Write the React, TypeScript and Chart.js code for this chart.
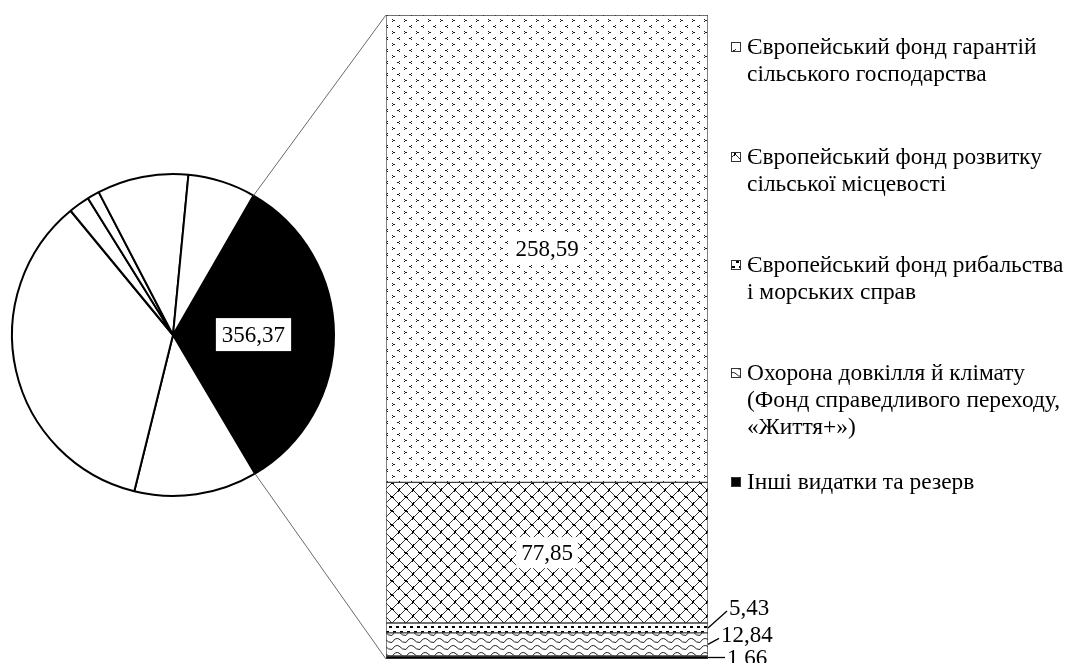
import React, { useEffect, useRef } from 'react';
import { Chart, registerables } from 'chart.js';

Chart.register(...registerables);

// ---- Data ----
const pieCategories = [
  'Природні ресурси та довкілля',
  'Єдиний ринок, інновації та цифрова економіка',
  'Згуртованість, стійкість і цінності',
  'Міграція та управління кордонами',
  'Безпека й оборона',
  'Сусідство та світ',
  'Європейське публічне управління',
];
const pieValues = [356.37, 132.78, 377.77, 22.67, 13.19, 98.42, 73.1];

// stacked bar: bottom -> top
const barSeries = [
  ['Інші видатки та резерв'],
  ['Охорона довкілля й клімату', '(Фонд справедливого переходу,', '«Життя+»)'],
  ['Європейський фонд рибальства', 'і морських справ'],
  ['Європейський фонд розвитку', 'сільської місцевості'],
  ['Європейський фонд гарантій', 'сільського господарства'],
];
const barValues = [1.66, 12.84, 5.43, 77.85, 258.59];
const barPatterns = ['solid', 'wave', 'squares', 'diamond', 'dots'];

const FONT = "'Liberation Serif', 'Times New Roman', serif";
const fmt = (v: number) => v.toFixed(2).replace('.', ',');

function makePattern(ctxRef: CanvasRenderingContext2D, kind: string): CanvasPattern | string {
  if (kind === 'solid') return '#000';
  const c = document.createElement('canvas');
  const g = c.getContext('2d')!;
  if (kind === 'dots') {
    c.width = 12; c.height = 12;
    g.fillStyle = '#fff'; g.fillRect(0, 0, 12, 12);
    g.fillStyle = '#1a1a1a';
    // '<'
    g.fillRect(3, 1, 1, 1); g.fillRect(2, 2, 1, 1); g.fillRect(1, 2, 1, 1); g.fillRect(3, 3, 1, 1);
    // '>'
    g.fillRect(8, 7, 1, 1); g.fillRect(9, 8, 1, 1); g.fillRect(10, 8, 1, 1); g.fillRect(8, 9, 1, 1);
  } else if (kind === 'diamond') {
    c.width = 14; c.height = 14;
    g.fillStyle = '#fff'; g.fillRect(0, 0, 14, 14);
    g.strokeStyle = '#333'; g.lineWidth = 1;
    g.beginPath();
    g.moveTo(0, 7); g.lineTo(7, 0); g.lineTo(14, 7); g.lineTo(7, 14); g.closePath();
    g.stroke();
    g.fillStyle = '#000';
    g.fillRect(6, 0, 2, 1); g.fillRect(6, 13, 2, 1);
    g.fillRect(0, 6, 1, 2); g.fillRect(13, 6, 1, 2);
    g.fillRect(6, 0, 1, 2); g.fillRect(7, 12, 1, 2);
    g.fillRect(0, 7, 2, 1); g.fillRect(12, 6, 2, 1);
  } else if (kind === 'squares') {
    c.width = 14; c.height = 10;
    g.fillStyle = '#fff'; g.fillRect(0, 0, 14, 10);
    g.fillStyle = '#000';
    g.fillRect(1, 1, 3, 2); g.fillRect(8, 1, 3, 2);
    g.fillRect(4, 6, 3, 2); g.fillRect(11, 6, 3, 2);
  } else if (kind === 'wave') {
    c.width = 14; c.height = 7;
    g.fillStyle = '#fff'; g.fillRect(0, 0, 14, 7);
    g.strokeStyle = '#222'; g.lineWidth = 1;
    g.beginPath();
    g.moveTo(0, 5.5); g.quadraticCurveTo(3.5, 0, 7, 2); g.quadraticCurveTo(10.5, 6, 14, 5.5);
    g.stroke();
  }
  return ctxRef.createPattern(c, 'repeat') as CanvasPattern;
}

export default function App() {
  const pieRef = useRef<HTMLCanvasElement>(null);
  const barRef = useRef<HTMLCanvasElement>(null);

  useEffect(() => {
    const pieCanvas = pieRef.current!;
    const barCanvas = barRef.current!;
    const PIE_LEFT = 0;
    const PIE_TOP = 169;

    const pieLabelPlugin = {
      id: 'pieLabel',
      afterDatasetsDraw(chart: any) {
        const ctx = chart.ctx;
        const arc = chart.getDatasetMeta(0).data[0];
        const p = arc.tooltipPosition();
        const text = fmt(pieValues[0]);
        ctx.save();
        ctx.font = `23px ${FONT}`;
        const w = ctx.measureText(text).width + 12;
        const h = 33;
        ctx.fillStyle = '#fff';
        ctx.fillRect(p.x - w / 2, p.y - h / 2, w, h);
        ctx.fillStyle = '#000';
        ctx.textAlign = 'center';
        ctx.textBaseline = 'middle';
        ctx.fillText(text, p.x, p.y + 1);
        ctx.restore();
      },
    };

    const pieChart = new Chart(pieCanvas, {
      type: 'pie',
      data: {
        labels: pieCategories,
        datasets: [{
          data: pieValues,
          backgroundColor: pieValues.map((_, i) => (i === 0 ? '#000' : '#fff')),
          borderColor: '#000',
          borderWidth: 2,
          hoverOffset: 0,
        }],
      },
      options: {
        responsive: false,
        animation: false,
        events: [],
        rotation: 30,
        layout: { padding: 4 },
        plugins: { legend: { display: false }, tooltip: { enabled: false } },
      },
      plugins: [pieLabelPlugin],
    });

    const bctx = barCanvas.getContext('2d')!;
    const fills = barPatterns.map((k) => makePattern(bctx, k));
    const total = barValues.reduce((a, b) => a + b, 0);

    const overlayPlugin = {
      id: 'overlay',
      afterDatasetsDraw(chart: any) {
        const ctx = chart.ctx;
        const nData = chart.data.datasets.length;
        const topBar = chart.getDatasetMeta(nData - 1).data[0];
        const botBar = chart.getDatasetMeta(0).data[0];
        const left = topBar.x - topBar.width / 2;
        const right = topBar.x + topBar.width / 2;

        // connector lines from pie
        const arc = pieChart.getDatasetMeta(0).data[0] as any;
        const r = arc.outerRadius;
        const sx = PIE_LEFT + arc.x + r * Math.cos(arc.startAngle);
        const sy = PIE_TOP + arc.y + r * Math.sin(arc.startAngle);
        const ex = PIE_LEFT + arc.x + r * Math.cos(arc.endAngle);
        const ey = PIE_TOP + arc.y + r * Math.sin(arc.endAngle);
        ctx.save();
        ctx.strokeStyle = '#6a6a6a';
        ctx.lineWidth = 1;
        ctx.beginPath();
        ctx.moveTo(sx, sy); ctx.lineTo(left, topBar.y);
        ctx.moveTo(ex, ey); ctx.lineTo(left, botBar.base);
        ctx.stroke();
        ctx.restore();

        // data labels
        ctx.save();
        ctx.font = `23px ${FONT}`;
        ctx.textBaseline = 'middle';
        const outsideDy = [0, -9, -20];
        const outsideDx = [19, 13, 21];
        for (let i = 0; i < nData; i++) {
          const bar = chart.getDatasetMeta(i).data[0];
          const cy = (bar.y + bar.base) / 2;
          const text = fmt(barValues[i]);
          if (i >= 3) {
            const w = ctx.measureText(text).width + 10;
            const h = 31;
            ctx.fillStyle = '#fff';
            ctx.fillRect(bar.x - w / 2, cy - h / 2, w, h);
            ctx.fillStyle = '#000';
            ctx.textAlign = 'center';
            ctx.fillText(text, bar.x, cy + 1);
          } else {
            const lx = right + outsideDx[i];
            const ly = cy + outsideDy[i];
            ctx.strokeStyle = '#000';
            ctx.lineWidth = 1.3;
            ctx.beginPath();
            ctx.moveTo(right, cy);
            ctx.lineTo(lx - 2, ly + (i === 0 ? 0 : 3));
            ctx.stroke();
            ctx.fillStyle = '#000';
            ctx.textAlign = 'left';
            ctx.fillText(text, lx, ly + 1);
          }
        }
        ctx.restore();

        // legend
        ctx.save();
        ctx.font = `23.4px ${FONT}`;
        ctx.textBaseline = 'middle';
        ctx.textAlign = 'left';
        const itemY = [47, 157, 265, 373, 482];
        const lineH = 27;
        for (let k = 0; k < nData; k++) {
          const i = nData - 1 - k;
          const y0 = itemY[k];
          ctx.fillStyle = fills[i] as any;
          ctx.fillRect(731, y0 - 5, 10, 10);
          ctx.strokeStyle = '#333';
          ctx.lineWidth = 1;
          ctx.strokeRect(731.5, y0 - 4.5, 9, 9);
          ctx.fillStyle = '#000';
          barSeries[i].forEach((line, j) => {
            ctx.fillText(line, 747, y0 + j * lineH + 1);
          });
        }
        ctx.restore();
      },
    };

    const barChart = new Chart(barCanvas, {
      type: 'bar',
      data: {
        labels: [''],
        datasets: barSeries.map((name, i) => ({
          label: name.join(' '),
          data: [barValues[i]],
          backgroundColor: fills[i] as any,
          borderColor: '#404040',
          borderWidth: 1,
          borderSkipped: false,
          barPercentage: 1,
          categoryPercentage: 1,
        })),
      },
      options: {
        responsive: false,
        animation: false,
        events: [],
        layout: { padding: { left: 386, right: 359, top: 15, bottom: 4 } },
        scales: {
          x: { display: false, stacked: true },
          y: { display: false, stacked: true, min: 0, max: total },
        },
        plugins: { legend: { display: false }, tooltip: { enabled: false } },
      },
      plugins: [overlayPlugin],
    });

    return () => {
      barChart.destroy();
      pieChart.destroy();
    };
  }, []);

  return (
    <div style={{ position: 'absolute', left: 0, top: 0, width: 1067, height: 663, background: '#fff', overflow: 'hidden' }}>
      <canvas ref={pieRef} width={346} height={332} style={{ position: 'absolute', left: 0, top: 169 }} />
      <canvas ref={barRef} width={1067} height={663} style={{ position: 'absolute', left: 0, top: 0 }} />
    </div>
  );
}
